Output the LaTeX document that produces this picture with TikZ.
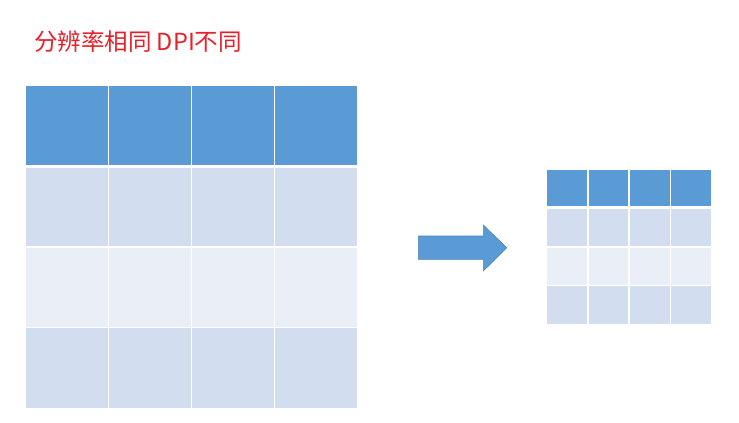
\documentclass[tikz,border=0pt]{standalone}
\usepackage{fontspec}
\newfontfamily\cjk{Noto Sans CJK SC}
\definecolor{hdr}{HTML}{5B9BD5}
\definecolor{rowa}{HTML}{D2DEEF}
\definecolor{rowb}{HTML}{EAEFF7}
\definecolor{ttl}{HTML}{E8202A}
\begin{document}
\begin{tikzpicture}[x=1pt,y=-1pt,
  cell/.style={draw=white,line width=1.5pt},
  hdrcell/.style={cell,fill=hdr},
  acell/.style={cell,fill=rowa},
  bcell/.style={cell,fill=rowb}]
\useasboundingbox[fill=white] (0,0) rectangle (739,423);
\node[anchor=west,text=ttl,font=\cjk\fontsize{23.5}{28}\selectfont,inner sep=0pt] (title) at (34,42) {分辨率相同 DPI不同};
% big table
\foreach \i in {0,1,2,3}{
  \pgfmathsetmacro{\xa}{25.7+\i*82.9}
  \pgfmathsetmacro{\xb}{25.7+(\i+1)*82.9}
  \draw[hdrcell] (\xa,85.5) rectangle (\xb,165.5);
  \draw[acell] (\xa,167) rectangle (\xb,247);
  \draw[bcell] (\xa,247) rectangle (\xb,327.7);
  \draw[acell] (\xa,327.7) rectangle (\xb,409);
}
% small table
\foreach \i in {0,1,2,3}{
  \pgfmathsetmacro{\xa}{546.7+\i*41.25}
  \pgfmathsetmacro{\xb}{546.7+(\i+1)*41.25}
  \draw[hdrcell] (\xa,169.5) rectangle (\xb,207);
  \draw[acell] (\xa,208.5) rectangle (\xb,247);
  \draw[bcell] (\xa,247) rectangle (\xb,285.7);
  \draw[acell] (\xa,285.7) rectangle (\xb,324.7);
}
% arrow
\draw[fill=hdr,draw=hdr!85!black,line width=0.6pt,line join=miter]
  (418.3,236) -- (483.3,236) -- (483.3,225) -- (506.7,247.7) -- (483.3,271) -- (483.3,259.3) -- (418.3,259.3) -- cycle;
\end{tikzpicture}
\end{document}
